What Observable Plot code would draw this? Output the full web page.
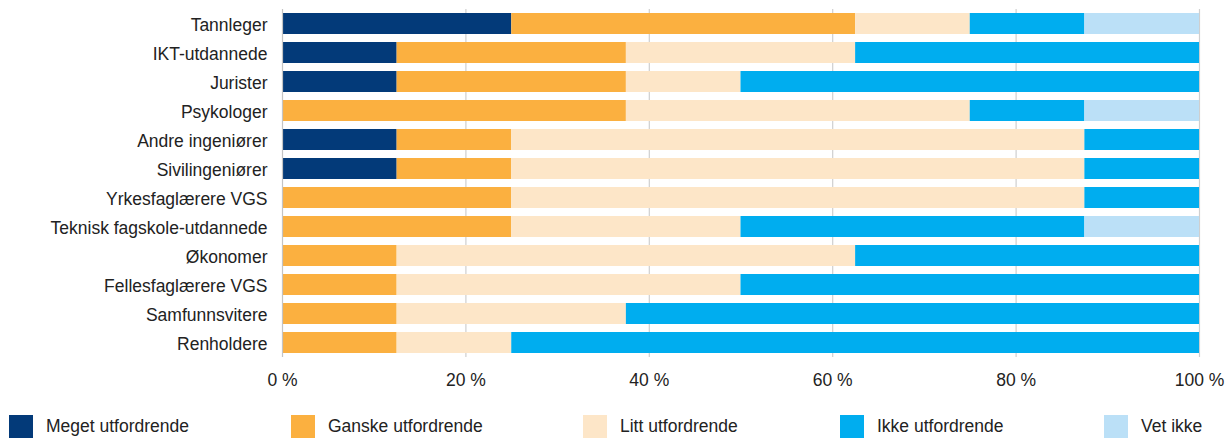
<!DOCTYPE html>
<html>
<head>
<meta charset="utf-8">
<script src="https://cdn.jsdelivr.net/npm/d3@7"></script>
<script src="https://cdn.jsdelivr.net/npm/@observablehq/plot@0.6"></script>
<style>
  html, body { margin: 0; padding: 0; background: #fff; }
  body { width: 1231px; height: 438px; position: relative; overflow: hidden;
         font-family: "Liberation Sans", Arial, Helvetica, sans-serif; color: #222; }
  #chart { position: absolute; left: 0; top: 0; }
  .legend { position: absolute; top: 415px; left: 0; width: 1231px; height: 23px; }
  .item { position: absolute; top: 0; display: flex; align-items: center; height: 23px; font-size: 17.5px; white-space: nowrap; }
  .sw { width: 24px; height: 23px; margin-right: 13px; flex: none; }
</style>
</head>
<body>
<div id="chart"></div>
<div class="legend" id="legend"></div>
<script>
const categories = [
  "Tannleger", "IKT-utdannede", "Jurister", "Psykologer", "Andre ingeniører",
  "Sivilingeniører", "Yrkesfaglærere VGS", "Teknisk fagskole-utdannede",
  "Økonomer", "Fellesfaglærere VGS", "Samfunnsvitere", "Renholdere"
];
const seriesNames = ["Meget utfordrende", "Ganske utfordrende", "Litt utfordrende", "Ikke utfordrende", "Vet ikke"];
const seriesColors = ["#033a79", "#fbb040", "#fde6c8", "#00adef", "#bbe0f7"];

const meget  = [25, 12.5, 12.5, 0, 12.5, 12.5, 0, 0, 0, 0, 0, 0];
const ganske = [37.5, 25, 25, 37.5, 12.5, 12.5, 25, 25, 12.5, 12.5, 12.5, 12.5];
const litt   = [12.5, 25, 12.5, 37.5, 62.5, 62.5, 62.5, 25, 50, 37.5, 25, 12.5];
const ikke   = [12.5, 37.5, 50, 12.5, 12.5, 12.5, 12.5, 37.5, 37.5, 50, 62.5, 75];
const vetIkke= [12.5, 0, 0, 12.5, 0, 0, 0, 12.5, 0, 0, 0, 0];
const xTicks = [0, 20, 40, 60, 80, 100];

const seriesValues = [meget, ganske, litt, ikke, vetIkke];
const rows = [];
categories.forEach((c, i) => {
  seriesNames.forEach((s, j) => {
    rows.push({category: c, series: s, value: seriesValues[j][i]});
  });
});

const W = 1231, H = 400;
const plot = Plot.plot({
  width: W,
  height: H,
  marginLeft: 282,
  marginRight: 32,
  marginTop: 9,
  marginBottom: H - 357,
  style: {fontFamily: '"Liberation Sans", Arial, Helvetica, sans-serif', fontSize: "17.5px", color: "#222", background: "#fff"},
  x: {domain: [0, 100], ticks: xTicks, tickFormat: d => `${d} %`},
  y: {domain: categories, paddingInner: 0.276, paddingOuter: 0.138},
  color: {domain: seriesNames, range: seriesColors},
  marks: [
    Plot.ruleX(xTicks.slice(1), {stroke: "#cfcfcf", strokeWidth: 1.2}),
    Plot.barX(rows, Plot.stackX({x: "value", y: "category", fill: "series", z: "series", order: seriesNames})),
    Plot.ruleX([0], {stroke: "#c4c4c4", strokeWidth: 1.2}),
    Plot.axisX({ticks: xTicks, tickSize: 0, tickPadding: 16, tickFormat: d => `${d} %`, fontSize: 17.5, label: null}),
    Plot.axisY({tickSize: 0, tickPadding: 15, fontSize: 17.5, dy: 1.5, label: null})
  ]
});
document.getElementById("chart").appendChild(plot);

const legendX = [9, 291, 583, 840, 1104];
const legend = document.getElementById("legend");
seriesNames.forEach((s, i) => {
  const item = document.createElement("div");
  item.className = "item";
  item.style.left = legendX[i] + "px";
  const sw = document.createElement("span");
  sw.className = "sw";
  sw.style.background = seriesColors[i];
  const t = document.createElement("span");
  t.textContent = s;
  item.appendChild(sw);
  item.appendChild(t);
  legend.appendChild(item);
});
</script>
</body>
</html>
